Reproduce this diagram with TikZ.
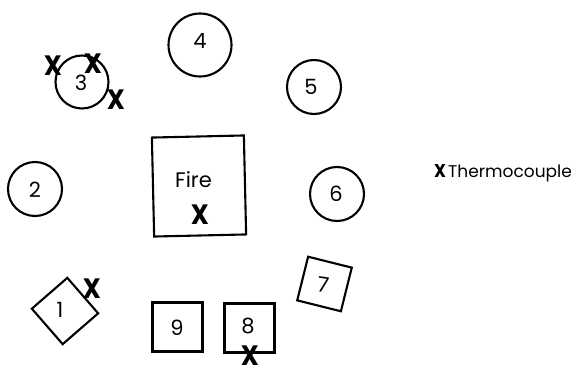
\documentclass[tikz,border=0pt]{standalone}
\usepackage{fontspec}
\setmainfont{Poppins}
\begin{document}
\begin{tikzpicture}[x=1pt,y=-1pt,
  ring/.style={draw,circle,line width=2.1pt,inner sep=0pt},
  sqbox/.style={draw,rectangle,line width=2.1pt,inner sep=0pt},
  lbl/.style={font=\fontsize{21}{21}\selectfont,inner sep=0pt},
  tc/.style={font=\fontsize{28}{28}\selectfont\bfseries,xscale=0.9,inner sep=0pt},
  tcsmall/.style={font=\fontsize{18.5}{18.5}\selectfont\bfseries,xscale=0.9,inner sep=0pt}]
\useasboundingbox (0,0) rectangle (588,366);
% circles
\node[ring,minimum size=53pt] (c3) at (82,82) {};
\node[ring,minimum size=63pt] (c4) at (200,45) {};
\node[ring,minimum size=54pt] (c5) at (314,87) {};
\node[ring,minimum size=54pt] (c2) at (35,189) {};
\node[ring,minimum size=54pt] (c6) at (337,194) {};
% boxes
\node[sqbox,minimum width=92pt,minimum height=99pt,rotate=1.3] (fire) at (199,186) {};
\node[sqbox,minimum size=47pt,rotate=-49] (b1) at (65,311) {};
\node[sqbox,minimum size=45pt,rotate=-14] (b7) at (324.5,284) {};
\node[sqbox,minimum width=50pt,minimum height=49pt] (b9) at (177.5,327) {};
\node[sqbox,minimum width=50pt,minimum height=49pt] (b8) at (249.5,328) {};
% labels
\node[lbl,anchor=base] (t4) at (200,49) {4};
\node[lbl,anchor=base] (t3) at (81,91) {3};
\node[lbl,anchor=base] (t5) at (311,95) {5};
\node[lbl,anchor=base] (t2) at (35,197) {2};
\node[lbl,anchor=base] (t6) at (336,201) {6};
\node[lbl,anchor=base,rotate=-8] (t7) at (322,292) {7};
\node[lbl,anchor=base] (t1) at (60,317) {1};
\node[lbl,anchor=base] (t9) at (177,335) {9};
\node[lbl,anchor=base] (t8) at (248,333) {8};
\node[lbl,anchor=base] (tfire) at (193.5,187) {Fire};
% thermocouples
\node[tc] (x3a) at (53,66) {X};
\node[tc] (x3b) at (93,64) {X};
\node[tc] (x3c) at (116,100) {X};
\node[tc] (x1) at (92,289) {X};
\node[tc] (xf) at (200,215) {X};
\node[tc] (x8) at (250,355.5) {X};
% legend
\node[tcsmall] (xl) at (440,171.5) {X};
\node[anchor=base west,inner sep=0pt,font=\fontsize{17}{17}\selectfont] (leg) at (448,177) {Thermocouple};
\end{tikzpicture}
\end{document}
